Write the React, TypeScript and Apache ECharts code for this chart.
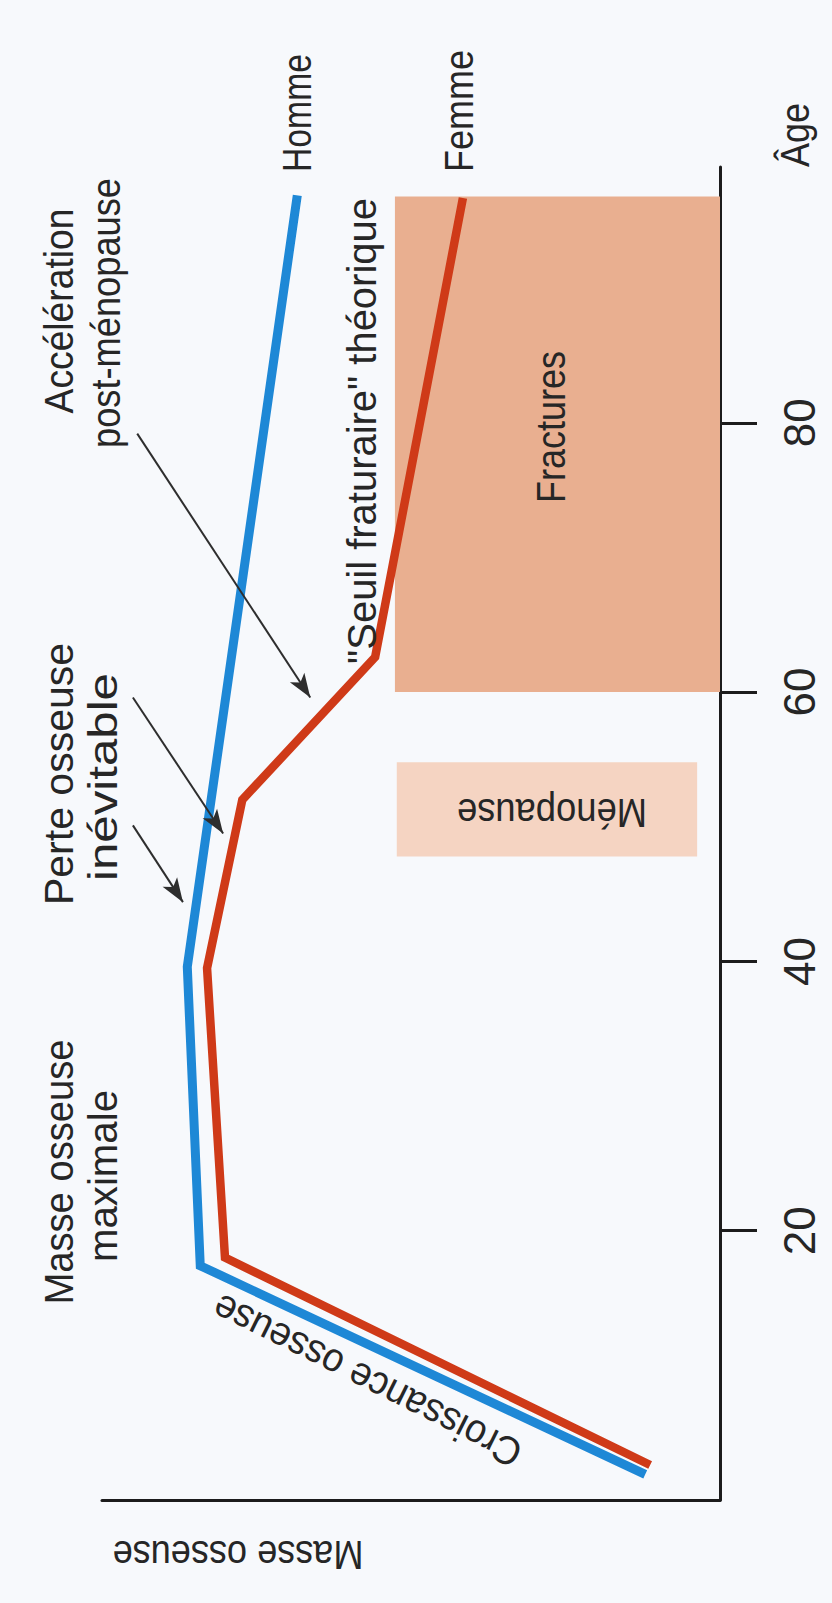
import React, { useEffect, useRef } from "react";
import * as echarts from "echarts";

// ---- Data (mass in arbitrary units, 0 at the age axis; age in years) ----
const ageTicks = [20, 40, 60, 80];

const hommeAge = [1.9, 17.4, 39.6, 96.9];
const hommeMasse = [12.1, 84.1, 86.2, 68.4];

const femmeAge = [2.6, 18.0, 39.5, 52.0, 62.6, 96.7];
const femmeMasse = [11.3, 80.1, 83.0, 77.3, 55.8, 41.6];

const fracturesAge = [60, 96.8];
const fracturesMasse = [0, 52.6];

const menopauseAge = [47.8, 54.8];
const menopauseMasse = [3.7, 52.3];

// annotation arrows: start / end in data units
const arrowStartMasse = [94.3, 95.0, 95.0];
const arrowStartAge = [79.2, 59.6, 50.1];
const arrowEndMasse = [66.3, 80.4, 86.9];
const arrowEndAge = [59.6, 49.5, 44.4];

const FONT = '"Liberation Sans", Arial, Helvetica, sans-serif';
const FS = 40;
const TXT = "#262626";
const AXIS = "#1c1c1c";

let measureCtx: CanvasRenderingContext2D | null = null;
function measure(text: string): number {
  if (!measureCtx) {
    const c = document.createElement("canvas");
    measureCtx = c.getContext("2d");
  }
  if (!measureCtx) return text.length * FS * 0.5;
  measureCtx.font = `${FS}px ${FONT}`;
  return measureCtx.measureText(text).width;
}

// text label: centre (x, y), rotation (rad), target length along its direction
function txt(text: string, x: number, y: number, rotation: number, len: number) {
  const w = measure(text);
  const sx = w > 0 ? len / w : 1;
  return {
    type: "text",
    x,
    y,
    rotation,
    scaleX: sx,
    scaleY: 1,
    silent: true,
    z: 100,
    style: {
      text,
      fill: TXT,
      fontSize: FS,
      fontFamily: FONT,
      align: "center",
      verticalAlign: "middle",
      textAlign: "center",
      textVerticalAlign: "middle",
    },
  };
}

export default function App() {
  const ref = useRef<HTMLDivElement>(null);

  useEffect(() => {
    document.body.style.margin = "0";
    document.body.style.background = "#F7F9FC";
    const chart = echarts.init(ref.current!, undefined, { renderer: "svg" });

    const homme = hommeAge.map((a, i) => [hommeMasse[i], a]);
    const femme = femmeAge.map((a, i) => [femmeMasse[i], a]);
    const arrows = arrowStartAge.map((a, i) => [
      { coord: [arrowStartMasse[i], a] },
      { coord: [arrowEndMasse[i], arrowEndAge[i]] },
    ]);

    const R = Math.PI / 2;
    const option: any = {
      animation: false,
      backgroundColor: "#F7F9FC",
      grid: { left: 102, right: 112, top: 167, bottom: 103, containLabel: false },
      xAxis: {
        type: "value",
        min: 0,
        max: 100,
        inverse: true,
        position: "bottom",
        axisLine: { show: true, lineStyle: { color: AXIS, width: 3 } },
        axisTick: { show: false },
        axisLabel: { show: false },
        splitLine: { show: false },
      },
      yAxis: {
        type: "value",
        min: 0,
        max: 99,
        interval: 20,
        position: "right",
        axisLine: { show: true, lineStyle: { color: AXIS, width: 3 } },
        axisTick: {
          show: true,
          inside: false,
          length: 37,
          customValues: ageTicks,
          lineStyle: { color: AXIS, width: 3 },
        },
        axisLabel: {
          show: true,
          rotate: 90,
          margin: 57,
          fontSize: 44,
          fontFamily: FONT,
          color: TXT,
          customValues: ageTicks,
        },
        splitLine: { show: false },
      },
      series: [
        {
          type: "line",
          name: "zones",
          data: [],
          z: 1,
          silent: true,
          markArea: {
            silent: true,
            data: [
              [
                { xAxis: fracturesMasse[0], yAxis: fracturesAge[0], itemStyle: { color: "#E9AF90" } },
                { xAxis: fracturesMasse[1], yAxis: fracturesAge[1] },
              ],
              [
                { xAxis: menopauseMasse[0], yAxis: menopauseAge[0], itemStyle: { color: "#F5D4C2" } },
                { xAxis: menopauseMasse[1], yAxis: menopauseAge[1] },
              ],
            ],
          },
        },
        {
          type: "line",
          name: "Homme",
          data: homme,
          z: 3,
          showSymbol: false,
          symbol: "none",
          lineStyle: { color: "#1E88D6", width: 9, cap: "butt", join: "miter" },
        },
        {
          type: "line",
          name: "Femme",
          data: femme,
          z: 3,
          showSymbol: false,
          symbol: "none",
          lineStyle: { color: "#CF3A18", width: 8.5, cap: "butt", join: "miter" },
        },
        {
          type: "line",
          name: "flèches",
          data: [],
          z: 5,
          silent: true,
          markLine: {
            silent: true,
            symbol: ["none", "arrow"],
            symbolSize: [13, 24],
            label: { show: false },
            lineStyle: { color: "#2e2e2e", width: 2, type: "solid" },
            data: arrows,
          },
        },
      ],
      graphic: [
        txt("Âge", 795, 135, R, 64),
        txt("Homme", 297, 113, R, 118),
        txt("Femme", 459, 111, R, 122),
        txt("Accélération", 59, 311, R, 205),
        txt("post-ménopause", 106, 313, R, 270),
        txt("Perte osseuse", 59, 774, R, 262),
        txt("inévitable", 103, 777, R, 208),
        txt("Masse osseuse", 59, 1172, R, 265),
        txt("maximale", 103, 1176, R, 172),
        txt("\"Seuil fraturaire\" théorique", 362, 431, R, 466),
        txt("Fractures", 551, 427, R, 152),
        txt("Ménopause", 552, 813, Math.PI, 190),
        txt("Croissance osseuse", 367, 1381, (153.5 * Math.PI) / 180, 340),
        txt("Masse osseuse", 238, 1555, Math.PI, 251),
      ],
    };

    chart.setOption(option);
    return () => chart.dispose();
  }, []);

  return <div ref={ref} style={{ width: 832, height: 1603 }} />;
}
